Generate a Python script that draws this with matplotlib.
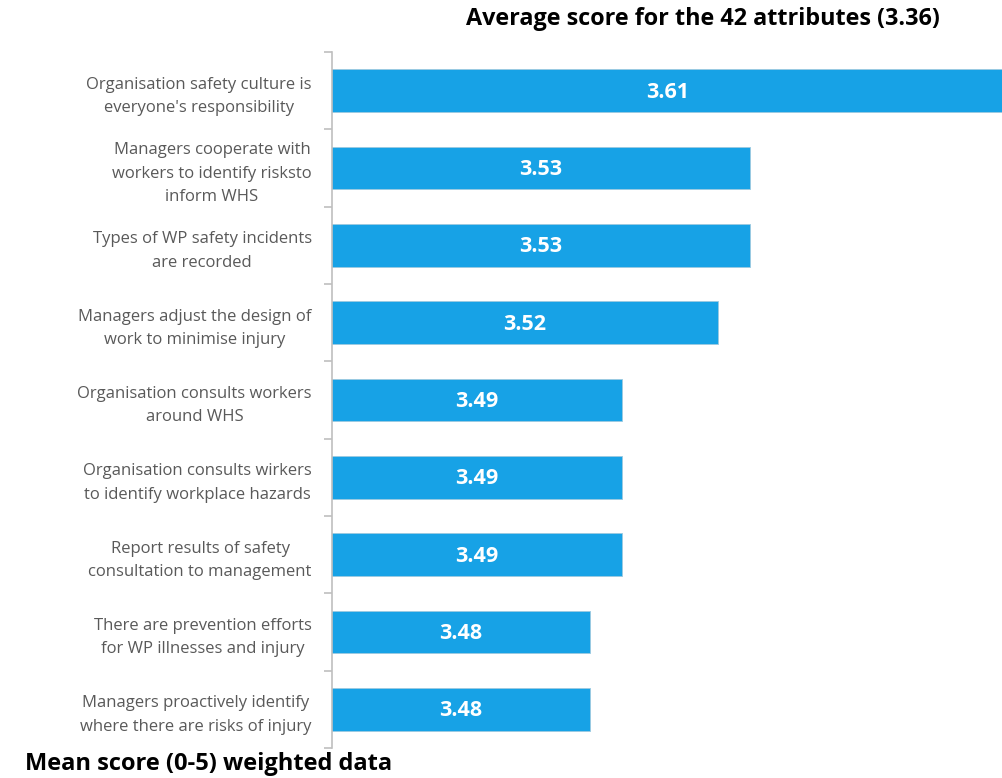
import matplotlib
matplotlib.use("Agg")
import matplotlib.pyplot as plt
import numpy as np

categories = [
    "Organisation safety culture is\neveryone's responsibility",
    "Managers cooperate with\nworkers to identify risksto\ninform WHS",
    "Types of WP safety incidents\nare recorded",
    "Managers adjust the design of\nwork to minimise injury",
    "Organisation consults workers\naround WHS",
    "Organisation consults wirkers\nto identify workplace hazards",
    "Report results of safety\nconsultation to management",
    "There are prevention efforts\nfor WP illnesses and injury",
    "Managers proactively identify\nwhere there are risks of injury",
]
values = [3.61, 3.53, 3.53, 3.52, 3.49, 3.49, 3.49, 3.48, 3.48]
value_labels = ["3.61", "3.53", "3.53", "3.52", "3.49", "3.49", "3.49", "3.48", "3.48"]
title = "Average score for the 42 attributes (3.36)"
xlabel = "Mean score (0-5) weighted data"

plt.rcParams['font.family'] = ['Open Sans', 'DejaVu Sans']

W, H = 1003, 778
fig = plt.figure(figsize=(W / 100, H / 100), dpi=100)
ax = fig.add_axes([332 / W, 1 - 748 / H, (W - 332) / W, (748 - 52) / H])

n = len(categories)
y = np.arange(n)
bar_color = "#17A2E6"
x0, x1 = 3.3994, 3.6091
ax.barh(y, values, left=0, height=0.55, color=bar_color, edgecolor="#9CC9E0",
        linewidth=0.6, zorder=2)
ax.set_xlim(x0, x1)
ax.set_ylim(n - 0.5, -0.5)

for yi, v, lab in zip(y, values, value_labels):
    ax.text((x0 + min(v, x1)) / 2, yi + 0.02, lab, ha="center", va="center",
            color="white", fontsize=15.5, fontweight="bold", zorder=3)

for s in ["top", "right", "bottom"]:
    ax.spines[s].set_visible(False)
ax.spines["left"].set_color("#BFBFBF")
ax.spines["left"].set_linewidth(1.2)
ax.set_xticks([])

ax.set_yticks(y)
ax.set_yticklabels(categories, fontsize=12, color="#595959",
                   multialignment="center", linespacing=1.62)
ax.tick_params(axis="y", which="major", length=0, pad=14.5)
ax.set_yticks(np.arange(-0.5, n, 1.0), minor=True)
ax.tick_params(axis="y", which="minor", length=6, color="#BFBFBF", width=1.2)

fig.text(703 / W, 1 - 19 / H, title, ha="center", va="center",
         fontsize=16.8, fontweight="bold", color="black")
fig.text(25 / W, 1 - 764 / H, xlabel, ha="left", va="center",
         fontsize=17, fontweight="bold", color="black")

fig.savefig("out.png", dpi=100)
